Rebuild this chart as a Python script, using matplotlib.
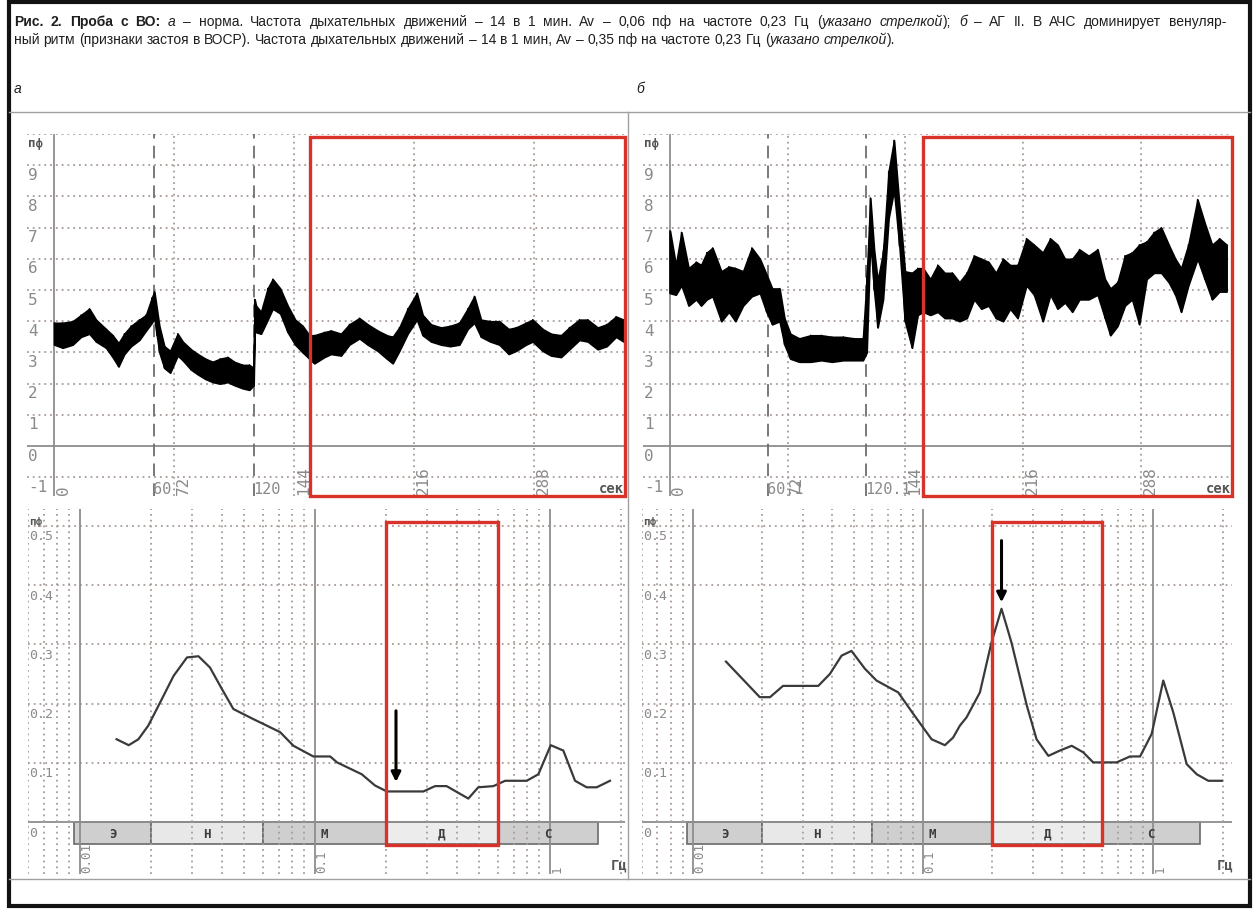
import numpy as np
import matplotlib
matplotlib.use('Agg')
import matplotlib.pyplot as plt
from matplotlib.patches import Rectangle
from matplotlib import transforms as mtrans

# ---------------------------------------------------------------- data
# (а) LDF trace, time in s, lower / upper edge of the noisy band (пф)
a_t = [0, 5, 11, 16, 21, 25, 31, 35, 38.5, 42, 46, 51, 55, 58.5, 60, 61.5, 63, 66,
       69.5, 74, 77, 82, 86, 90.6, 95, 99.5, 104, 108, 113, 117, 119.6, 120.2, 121,
       124, 128, 131, 135.5, 140, 144.5, 149, 153, 156, 162, 166, 172, 177, 183, 188,
       194, 199.5, 203, 207, 212, 217.5, 221, 226, 232, 237.5, 243, 248, 252, 256,
       261.5, 267, 272.6, 277, 283, 287, 293, 298, 304, 309, 315, 320, 326, 331.4,
       337, 341.5]
a_hi = [3.95, 3.95, 4.0, 4.2, 4.4, 4.05, 3.75, 3.55, 3.3, 3.6, 3.85, 4.05, 4.2, 4.75,
        4.95, 4.4, 3.85, 3.2, 3.05, 3.6, 3.35, 3.1, 2.95, 2.8, 2.7, 2.8, 2.85, 2.7,
        2.6, 2.6, 2.5, 4.7, 4.5, 4.3, 5.05, 5.35, 5.05, 4.5, 4.05, 3.85, 3.55, 3.55,
        3.65, 3.7, 3.6, 3.9, 4.1, 3.9, 3.7, 3.55, 3.5, 3.8, 4.4, 4.9, 4.2, 3.9, 3.8,
        3.85, 3.95, 4.4, 4.8, 4.05, 4.0, 4.0, 3.75, 3.8, 3.95, 4.05, 3.75, 3.6, 3.55,
        3.8, 4.05, 4.05, 3.8, 3.9, 4.15, 4.05]
a_lo = [3.25, 3.15, 3.25, 3.5, 3.6, 3.35, 3.15, 2.85, 2.55, 2.95, 3.2, 3.4, 3.7, 3.95,
        4.1, 3.55, 3.0, 2.5, 2.35, 2.9, 2.75, 2.45, 2.3, 2.15, 2.05, 2.0, 2.05, 1.95,
        1.85, 1.8, 1.95, 3.8, 3.65, 3.6, 4.05, 4.4, 4.25, 3.65, 3.25, 3.0, 2.8, 2.65,
        2.85, 2.95, 2.9, 3.25, 3.45, 3.25, 3.05, 2.8, 2.65, 3.05, 3.6, 4.05, 3.55, 3.35,
        3.25, 3.2, 3.25, 3.75, 3.95, 3.5, 3.35, 3.25, 2.95, 3.05, 3.25, 3.35, 3.05, 2.9,
        2.85, 3.1, 3.4, 3.35, 3.1, 3.2, 3.5, 3.35]

# (б) LDF trace
b_t = [0, 3.6, 7, 11.4, 16, 19, 22.5, 26, 31.4, 36, 40, 44.7, 50, 55, 59, 62.5, 67, 70,
       73.6, 79, 86, 92.5, 99, 106, 112.5, 118, 120.3, 122.5, 124.8, 127, 130.3, 133.7,
       137, 140.3, 143.7, 148, 151.5, 154.8, 159.2, 163.7, 168, 172.6, 177, 181.5, 186,
       190.4, 194.8, 199.3, 203.7, 208, 212.6, 218, 222.6, 228, 232.6, 237, 241.5, 246,
       250.4, 256, 261.5, 266, 269.3, 273.7, 278.2, 282.6, 287, 291.5, 296, 300.4, 305,
       309, 312.6, 317, 322.6, 327, 331.5, 336, 340.4]
b_hi = [6.9, 5.8, 6.85, 5.7, 5.9, 5.8, 6.2, 6.35, 5.6, 5.75, 5.7, 5.6, 6.35, 6.0, 5.5,
        5.05, 5.05, 4.1, 3.6, 3.45, 3.55, 3.55, 3.5, 3.5, 3.45, 3.45, 5.35, 7.95, 6.3,
        5.3, 6.2, 8.8, 9.8, 7.7, 5.6, 5.55, 5.7, 5.7, 5.35, 5.8, 5.55, 5.55, 5.25, 5.55,
        6.1, 6.0, 5.9, 5.55, 6.0, 5.8, 5.8, 6.65, 6.45, 6.2, 6.65, 6.45, 6.0, 6.0, 6.3,
        6.1, 6.3, 5.35, 5.05, 5.25, 6.1, 6.2, 6.45, 6.55, 6.85, 7.0, 6.45, 6.0, 5.7,
        6.45, 7.9, 7.15, 6.45, 6.65, 6.45]
b_lo = [4.9, 4.85, 5.15, 4.5, 4.7, 4.5, 4.7, 4.8, 4.0, 4.3, 4.0, 4.5, 4.8, 4.9, 4.3,
        3.9, 4.0, 3.25, 2.8, 2.7, 2.7, 2.75, 2.7, 2.75, 2.75, 2.75, 3.0, 6.6, 5.0, 3.8,
        4.7, 7.3, 8.2, 6.4, 4.0, 3.15, 4.2, 4.3, 4.2, 4.3, 4.1, 4.1, 4.0, 4.1, 4.7, 4.4,
        4.5, 4.1, 4.0, 4.4, 4.1, 5.15, 4.85, 4.0, 4.85, 4.4, 4.6, 4.3, 4.7, 4.7, 4.85,
        4.1, 3.55, 3.85, 4.5, 4.7, 3.9, 5.35, 5.55, 5.55, 5.25, 4.85, 4.3, 5.15, 6.0,
        5.35, 4.7, 4.95, 4.95]

# (а) amplitude spectrum: frequency (Гц), amplitude (пф)
a_f = [0.0143, 0.0161, 0.0177, 0.0195, 0.0219, 0.0250, 0.0285, 0.0319, 0.0357, 0.0401,
       0.0449, 0.0546, 0.0623, 0.0710, 0.0809, 0.0983, 0.116, 0.124, 0.158, 0.180,
       0.202, 0.289, 0.324, 0.363, 0.449, 0.495, 0.574, 0.644, 0.796, 0.892, 1.007,
       1.139, 1.278, 1.432, 1.58, 1.80]
a_amp = [0.140, 0.130, 0.140, 0.163, 0.202, 0.247, 0.278, 0.280, 0.261, 0.225, 0.191,
         0.174, 0.163, 0.152, 0.129, 0.111, 0.111, 0.101, 0.081, 0.062, 0.052, 0.052,
         0.061, 0.061, 0.040, 0.059, 0.061, 0.070, 0.070, 0.081, 0.130, 0.121, 0.070,
         0.059, 0.059, 0.070]

# (б) amplitude spectrum
b_f = [0.0139, 0.0195, 0.0216, 0.0246, 0.0350, 0.0393, 0.0442, 0.0488, 0.0558, 0.0627,
       0.0779, 0.0905, 0.1088, 0.1243, 0.135, 0.1444, 0.1544, 0.1764, 0.198, 0.219,
       0.242, 0.282, 0.311, 0.350, 0.393, 0.442, 0.496, 0.548, 0.693, 0.792, 0.876,
       0.984, 1.105, 1.222, 1.397, 1.544, 1.734, 1.984]
b_amp = [0.271, 0.211, 0.211, 0.230, 0.230, 0.250, 0.281, 0.289, 0.259, 0.239, 0.219,
         0.183, 0.140, 0.130, 0.143, 0.163, 0.177, 0.219, 0.303, 0.360, 0.303, 0.197,
         0.140, 0.112, 0.121, 0.129, 0.118, 0.101, 0.101, 0.111, 0.111, 0.149, 0.239,
         0.185, 0.098, 0.081, 0.070, 0.070]

# frequency ranges (Э, Н, М, Д, С)
band_names = ['Э', 'Н', 'М', 'Д', 'С']
band_edges = [0.0094, 0.02, 0.06, 0.2, 0.6, 1.6]
# arrows: frequency, amplitude at tip, amplitude at tail
a_arrow = (0.221, 0.068, 0.188)
b_arrow = (0.219, 0.371, 0.475)
# analysed windows
a_win_t = (153.5, 342.4)
b_win_t = (155.0, 343.5)
win_f = (0.2, 0.6)

top_yticks = [-1, 0, 1, 2, 3, 4, 5, 6, 7, 8, 9]
bot_yticks = [0.1, 0.2, 0.3, 0.4, 0.5]
rot_ticks = [0, 72, 144, 216, 288]
dash_ticks = [60, 120]
a_dash_labels = ['60', '120']
b_dash_labels = ['60.1', '120.1']
freq_ticks = [(0.01, '0.01'), (0.1, '0.1'), (1, '1')]

caption1 = [('Рис. 2. Проба с ВО:', 'bold', 'normal'),
            (' а', 'normal', 'italic'),
            (' – норма. Частота дыхательных движений – 14 в 1 мин. Av – 0,06 пф на частоте 0,23 Гц (', 'normal', 'normal'),
            ('указано стрелкой', 'normal', 'italic'),
            ('); ', 'normal', 'normal'),
            ('б', 'normal', 'italic'),
            (' – АГ II. В АЧС доминирует венуляр-', 'normal', 'normal')]
caption2 = [('ный ритм (признаки застоя в ВОСР). Частота дыхательных движений – 14 в 1 мин, Av – 0,35 пф на частоте 0,23 Гц (', 'normal', 'normal'),
            ('указано стрелкой', 'normal', 'italic'),
            (').', 'normal', 'normal')]

# ---------------------------------------------------------------- style
W, H = 1255, 912
fig = plt.figure(figsize=(W / 100, H / 100), dpi=100)
GRID = '#a89c97'
AXL = '#8e8e8e'
LAB = '#8a8a8a'
RED = '#d8322b'
MONO = 'DejaVu Sans Mono'
CAP = ['Liberation Sans', 'DejaVu Sans']
dot = (0, (1.0, 2.2))


def ax_px(x0, y0, x1, y1):
    return fig.add_axes([x0 / W, 1 - y1 / H, (x1 - x0) / W, (y1 - y0) / H])


def tr_off(base, dx, dy):
    return mtrans.offset_copy(base, fig=fig, x=dx, y=dy, units='dots')


def top_panel(box, xlim, t, lo, hi, win, dash_labels):
    ax = ax_px(*box)
    ax.set_xlim(*xlim)
    ax.set_ylim(-1.6, 10.0)
    ax.axis('off')
    for v in range(-1, 11):
        if v == 0:
            ax.axhline(0, color=AXL, lw=1.3, zorder=1)
        else:
            ax.axhline(v, color=GRID, lw=1.3, ls=dot, zorder=1)
    ax.axvline(0, color=AXL, lw=1.3, zorder=1)
    for v in dash_ticks:
        ax.axvline(v, color='#6e6e6e', lw=1.3, ls=(0, (7, 4)), zorder=1)
    for v in rot_ticks[1:]:
        ax.axvline(v, color=GRID, lw=1.3, ls=dot, zorder=1)
    # trace
    ax.fill_between(t, lo, hi, color='black', lw=1.2, zorder=3)
    zz_x = np.repeat(t, 2)
    zz_y = np.ravel(np.column_stack([lo, hi]))
    ax.plot(zz_x, zz_y, color='black', lw=1.0, zorder=3)
    # red window
    ax.add_patch(Rectangle((win[0], -1.6), win[1] - win[0], 9.9 + 1.6, fill=False,
                           ec=RED, lw=2.4, clip_on=False, zorder=5))
    # y labels
    ytr = tr_off(mtrans.blended_transform_factory(ax.transAxes, ax.transData), 1, -9)
    for v in top_yticks:
        ax.text(0, v, str(v), transform=ytr, ha='left', va='center', fontsize=11.5,
                family=MONO, color=LAB)
    ax.text(0, 10, 'пф', transform=ytr, ha='left', va='center', fontsize=9,
            family=MONO, color='#555555', weight='bold')
    # x labels
    xb = mtrans.blended_transform_factory(ax.transData, ax.transAxes)
    for v in rot_ticks:
        ax.text(v, 0, str(v), transform=tr_off(xb, 9, 2), rotation=90, ha='center',
                va='bottom', fontsize=11.5, family=MONO, color=LAB)
    for v, s in zip(dash_ticks, dash_labels):
        ax.text(v, 0, s, transform=tr_off(xb, -1, 7), ha='left', va='center',
                fontsize=11, family=MONO, color=LAB)
    ax.text(1, 0, 'сек', transform=tr_off(ax.transAxes, -1, 8), ha='right',
            va='center', fontsize=10, family=MONO, color='#555555', weight='bold')
    return ax


def bottom_panel(box, xlim, f, amp, arrow):
    ax = ax_px(*box)
    ax.set_xscale('log')
    ax.set_xlim(*xlim)
    ax.set_ylim(-0.0872, 0.5283)
    ax.axis('off')
    # band bar
    cols = ['#cfcfcf', '#e8e8e8', '#cfcfcf', '#ececec', '#cfcfcf']
    for i, name in enumerate(band_names):
        f0, f1 = band_edges[i], band_edges[i + 1]
        ax.add_patch(Rectangle((f0, -0.037), f1 - f0, 0.037, fc=cols[i], ec='#6a6a6a',
                               lw=1.2, zorder=2))
        ax.text(np.sqrt(f0 * f1), -0.0185, name, ha='center', va='center', fontsize=9,
                family=MONO, weight='bold', color='#3c3c3c', zorder=4)
    # grid
    for v in bot_yticks:
        ax.axhline(v, color=GRID, lw=1.3, ls=dot, zorder=1)
    ax.axhline(0, color=AXL, lw=1.3, zorder=3)
    for dec in (0.001, 0.01, 0.1, 1):
        for m in range(1, 10):
            v = dec * m
            if not (xlim[0] <= v <= xlim[1]):
                continue
            if m == 1:
                ax.axvline(v, color=AXL, lw=1.3, zorder=3)
            else:
                ax.axvline(v, color=GRID, lw=1.3, ls=dot, zorder=3)
    # spectrum
    ax.plot(f, amp, color='#3a3a3a', lw=1.6, zorder=4)
    # red window
    ax.add_patch(Rectangle((win_f[0], -0.038), win_f[1] - win_f[0], 0.506 + 0.038,
                           fill=False, ec=RED, lw=2.4, zorder=5))
    # arrow
    ax.annotate('', xy=(arrow[0], arrow[1]), xytext=(arrow[0], arrow[2]),
                arrowprops=dict(arrowstyle='-|>', color='black', lw=2.2,
                                mutation_scale=14, shrinkA=0, shrinkB=0), zorder=6)
    # labels
    ytr = tr_off(mtrans.blended_transform_factory(ax.transAxes, ax.transData), 1, -10)
    for v in bot_yticks:
        ax.text(0, v, f'{v:.1f}', transform=ytr, ha='left', va='center', fontsize=9.5,
                family=MONO, color=LAB)
    ax.text(0, 0, '0', transform=ytr, ha='left', va='center', fontsize=9.5,
            family=MONO, color=LAB)
    ax.text(0, 0.5, 'пф', transform=tr_off(ytr, 0, 15), ha='left', va='center',
            fontsize=8, family=MONO, color='#555555', weight='bold')
    xb = mtrans.blended_transform_factory(ax.transData, ax.transAxes)
    for v, s in freq_ticks:
        ax.text(v, 0, s, transform=tr_off(xb, 7, 2), rotation=90, ha='center',
                va='bottom', fontsize=9, family=MONO, color=LAB, zorder=6)
    ax.text(1, 0, 'Гц', transform=tr_off(ax.transAxes, 2, 9), ha='right',
            va='center', fontsize=10, family=MONO, color='#555555', weight='bold')
    return ax


top_panel((27, 135, 625, 497), (-16.4, 342.4), a_t, a_lo, a_hi, a_win_t, a_dash_labels)
top_panel((643, 135, 1232, 497), (-16.5, 343.7), b_t, b_lo, b_hi, b_win_t, b_dash_labels)
bottom_panel((28, 510, 625, 875), (0.006, 2.085), a_f, a_amp, a_arrow)
bottom_panel((642, 510, 1232, 875), (0.006, 2.198), b_f, b_amp, b_arrow)

# ---------------------------------------------------------------- frames
bg = fig.add_axes([0, 0, 1, 1], zorder=-5)
bg.set_xlim(0, W)
bg.set_ylim(H, 0)
bg.axis('off')
bg.add_patch(Rectangle((9, 3), W - 14, H - 8, fill=False, ec='#111111', lw=3.0))
bg.plot([9, W - 5], [113, 113], color='#a0a0a0', lw=1.0)
bg.plot([628, 628], [113, 880], color='#a0a0a0', lw=1.0)
bg.plot([9, W - 5], [880, 880], color='#a0a0a0', lw=1.0)

# ---------------------------------------------------------------- caption
r = fig.canvas.get_renderer()


def seg_width(s, **kw):
    t1 = fig.text(0, 0, 'x' + s + 'x', **kw)
    t2 = fig.text(0, 0, 'xx', **kw)
    w = t1.get_window_extent(r).width - t2.get_window_extent(r).width
    t1.remove()
    t2.remove()
    return w


def rich(x, y, parts, size=10, right=None):
    words = []
    pending = False
    for s, wt, st in parts:
        kw = dict(fontsize=size, family=CAP, weight=wt, style=st)
        for j, p in enumerate(s.split(' ')):
            if j > 0:
                pending = True
            if p == '':
                continue
            words.append((p, kw, pending))
            pending = False
    widths = [seg_width(p, **kw) for p, kw, _ in words]
    spaces = [seg_width(' ', **kw) if sp else 0.0 for p, kw, sp in words]
    nsp = sum(1 for *_, sp in words if sp)
    extra = 0.0
    if right is not None and nsp:
        extra = (right - x - sum(widths) - sum(spaces)) / nsp
    for (p, kw, sp), w, s_w in zip(words, widths, spaces):
        if sp:
            x += s_w + extra
        fig.text(x / W, 1 - y / H, p, ha='left', va='center', color='#1e1e1e', **kw)
        x += w


rich(14, 22, caption1, right=1226)
rich(14, 40, caption2)
rich(14, 89, [('а', 'normal', 'italic')])
rich(636, 89, [('б', 'normal', 'italic')])

fig.savefig('out.png', dpi=100)
